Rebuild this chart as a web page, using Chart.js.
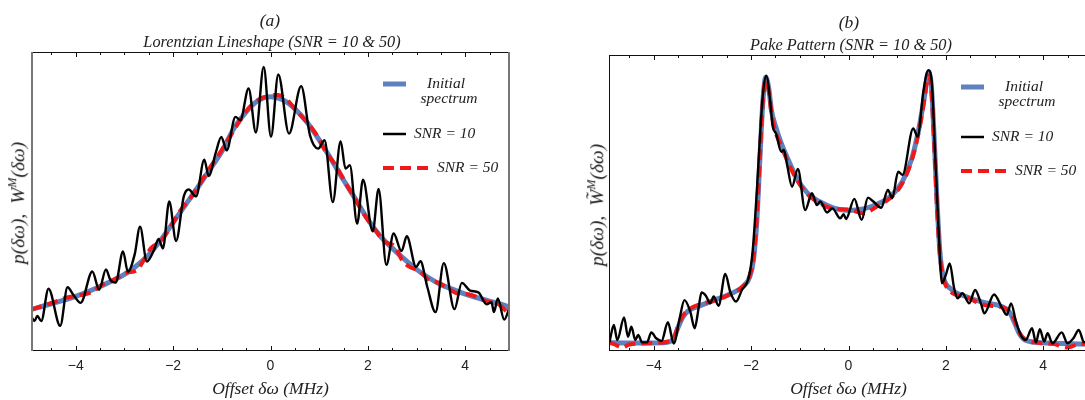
<!DOCTYPE html>
<html>
<head>
<meta charset="utf-8">
<script src="https://cdn.jsdelivr.net/npm/chart.js@4.4.0/dist/chart.umd.min.js"></script>
<style>
  body { margin: 0; width: 1085px; height: 400px; overflow: hidden; background: #fff; position: relative; }
  canvas { position: absolute; top: 0; }
  #chartA { left: 0; }
  #chartB { left: 578px; }
  .cap { position: absolute; transform: translate(-50%, -50%); white-space: nowrap;
         font-family: 'Liberation Serif', serif; font-style: italic; color: #222; }
  .ylab { position: absolute; white-space: nowrap; transform: translate(-50%, -50%) rotate(-90deg);
          font-family: 'Liberation Serif', serif; font-style: italic; font-size: 19.5px; color: #222; }
  .ylab sup { font-size: 12px; }
</style>
</head>
<body>
<canvas id="chartA" width="545" height="400"></canvas>
<canvas id="chartB" width="545" height="400"></canvas>

<div class="cap" style="left:270px; top:20px; font-size:17.5px;">(a)</div>
<div class="cap" style="left:272px; top:42px; font-size:16.3px;">Lorentzian Lineshape (SNR = 10 &amp; 50)</div>
<div class="ylab" style="left:17px; top:203px;">p(δω),&nbsp; W<sup>M</sup>(δω)</div>

<div class="cap" style="left:849px; top:22px; font-size:17.5px;">(b)</div>
<div class="cap" style="left:851px; top:45px; font-size:16.3px;">Pake Pattern (SNR = 10 &amp; 50)</div>
<div class="ylab" style="left:596px; top:205px;">p(δω),&nbsp; W̃<sup>M</sup>(δω)</div>

<script>
// x axis labels and series names
const xTicks = [-4, -2, 0, 2, 4];
const seriesNames = ['Initial spectrum', 'SNR = 10', 'SNR = 50'];

// (a) Lorentzian lineshape, initial spectrum
const aInitX = [-4.92, -4.5, -4.0, -3.5, -3.0, -2.75, -2.5, -2.25, -2.0, -1.75, -1.5, -1.25, -1.0, -0.75, -0.5, -0.25, 0,
  0.25, 0.5, 0.75, 1.0, 1.25, 1.5, 1.75, 2.0, 2.25, 2.5, 2.75, 3.0, 3.25, 3.5, 3.75, 4.0, 4.25, 4.5, 4.75, 4.92];
const aInitY = [0.139, 0.158, 0.183, 0.216, 0.256, 0.285, 0.322, 0.372, 0.430, 0.488, 0.546, 0.606, 0.667, 0.745, 0.800, 0.838, 0.850,
  0.840, 0.810, 0.765, 0.706, 0.640, 0.572, 0.507, 0.440, 0.385, 0.344, 0.307, 0.273, 0.245, 0.222, 0.206, 0.190, 0.178, 0.167, 0.156, 0.146];

// (a) reconstruction, SNR = 50
const aSnr50X = [-4.92, -4.7, -4.45, -4.2, -3.95, -3.7, -3.45, -3.2, -2.95, -2.75, -2.6, -2.45, -2.25, -2.05, -1.85, -1.65,
  -1.45, -1.25, -1.05, -0.85, -0.65, -0.45, -0.25, -0.05, 0.15, 0.35, 0.55, 0.75, 0.95, 1.15, 1.35, 1.55, 1.75, 1.95,
  2.15, 2.35, 2.55, 2.7, 2.85, 3.05, 3.25, 3.45, 3.65, 3.85, 4.05, 4.25, 4.45, 4.65, 4.8, 4.92];
const aSnr50Y = [0.138, 0.150, 0.163, 0.178, 0.186, 0.195, 0.222, 0.240, 0.262, 0.270, 0.305, 0.345, 0.368, 0.415, 0.470, 0.510,
  0.560, 0.612, 0.660, 0.712, 0.765, 0.812, 0.840, 0.852, 0.856, 0.838, 0.800, 0.765, 0.722, 0.662, 0.618, 0.560, 0.505, 0.450,
  0.405, 0.365, 0.350, 0.305, 0.282, 0.268, 0.238, 0.228, 0.210, 0.192, 0.190, 0.180, 0.165, 0.160, 0.140, 0.115];

// (a) reconstruction, SNR = 10
const aSnr10X = [-4.91, -4.85, -4.79, -4.71, -4.56, -4.32, -4.17, -4.05, -3.90, -3.66, -3.52, -3.38, -3.29, -3.18, -3.03, -2.93,
  -2.79, -2.68, -2.54, -2.38, -2.30, -2.21, -2.08, -1.94, -1.78, -1.68, -1.53, -1.36, -1.27, -1.12, -1.01, -0.90, -0.72, -0.62,
  -0.45, -0.30, -0.14, 0.01, 0.16, 0.38, 0.63, 0.81, 0.98, 1.11, 1.28, 1.44, 1.54, 1.63, 1.78, 1.90, 2.10, 2.22, 2.38, 2.53,
  2.69, 2.80, 2.99, 3.08, 3.22, 3.39, 3.56, 3.78, 3.93, 4.10, 4.27, 4.44, 4.54, 4.59, 4.67, 4.80, 4.92];
const aSnr10Y = [0.115, 0.100, 0.117, 0.100, 0.208, 0.084, 0.213, 0.188, 0.161, 0.266, 0.205, 0.273, 0.238, 0.229, 0.333, 0.265,
  0.323, 0.416, 0.299, 0.343, 0.375, 0.343, 0.500, 0.368, 0.518, 0.540, 0.517, 0.640, 0.585, 0.666, 0.716, 0.671, 0.783, 0.772,
  0.878, 0.731, 0.950, 0.716, 0.925, 0.727, 0.886, 0.722, 0.677, 0.705, 0.498, 0.702, 0.610, 0.621, 0.426, 0.573, 0.400, 0.542,
  0.288, 0.393, 0.334, 0.384, 0.281, 0.300, 0.215, 0.130, 0.294, 0.140, 0.228, 0.202, 0.196, 0.156, 0.163, 0.130, 0.176, 0.105, 0.150];

// (b) Pake pattern, initial spectrum
const bInitX = [-4.92, -4.5, -4.0, -3.7, -3.6, -3.5, -3.42, -3.3, -3.1, -2.75, -2.4, -2.15, -2.03, -1.95, -1.88, -1.82, -1.76,
  -1.70, -1.64, -1.58, -1.50, -1.40, -1.25, -1.05, -0.85, -0.60, -0.30, 0.0, 0.30, 0.60, 0.88, 1.10, 1.30, 1.45, 1.56, 1.64,
  1.70, 1.76, 1.82, 1.88, 1.95, 2.10, 2.40, 2.80, 3.15, 3.30, 3.40, 3.50, 3.62, 3.90, 4.4, 4.92];
const bInitY = [0.028, 0.027, 0.027, 0.030, 0.040, 0.080, 0.110, 0.135, 0.150, 0.172, 0.195, 0.220, 0.250, 0.310, 0.450, 0.650, 0.840,
  0.925, 0.890, 0.810, 0.760, 0.710, 0.650, 0.580, 0.535, 0.505, 0.483, 0.475, 0.480, 0.497, 0.525, 0.570, 0.650, 0.755, 0.860, 0.940,
  0.900, 0.720, 0.500, 0.330, 0.250, 0.210, 0.185, 0.163, 0.150, 0.133, 0.100, 0.062, 0.038, 0.029, 0.025, 0.023];

// (b) reconstruction, SNR = 50
const bSnr50X = [-4.92, -4.80, -4.65, -4.50, -4.0, -3.7, -3.58, -3.5, -3.4, -3.25, -3.05, -2.75, -2.45, -2.15, -2.03, -1.95, -1.88,
  -1.82, -1.76, -1.70, -1.64, -1.58, -1.50, -1.40, -1.25, -1.05, -0.85, -0.60, -0.30, 0.0, 0.30, 0.60, 0.88, 1.10, 1.30, 1.45,
  1.56, 1.64, 1.70, 1.76, 1.82, 1.88, 1.95, 2.10, 2.40, 2.80, 3.15, 3.30, 3.40, 3.50, 3.62, 3.90, 4.2, 4.5, 4.7, 4.92];
const bSnr50Y = [0.030, 0.022, 0.012, 0.022, 0.027, 0.032, 0.045, 0.085, 0.120, 0.143, 0.158, 0.170, 0.190, 0.222, 0.255, 0.320, 0.460,
  0.660, 0.845, 0.915, 0.880, 0.800, 0.740, 0.700, 0.640, 0.575, 0.530, 0.500, 0.480, 0.478, 0.465, 0.490, 0.520, 0.565, 0.645, 0.745,
  0.850, 0.930, 0.890, 0.700, 0.480, 0.320, 0.245, 0.200, 0.183, 0.155, 0.148, 0.135, 0.110, 0.065, 0.040, 0.028, 0.024, 0.012, 0.022, 0.025];

// (b) reconstruction, SNR = 10
const bSnr10X = [-4.91, -4.82, -4.75, -4.61, -4.53, -4.46, -4.38, -4.32, -4.24, -4.14, -4.05, -3.95, -3.84, -3.71, -3.59, -3.47,
  -3.37, -3.25, -3.16, -3.08, -3.02, -2.93, -2.84, -2.77, -2.67, -2.53, -2.43, -2.31, -2.19, -2.05, -1.97, -1.88, -1.80, -1.75,
  -1.69, -1.60, -1.56, -1.49, -1.38, -1.33, -1.26, -1.16, -1.04, -0.89, -0.75, -0.65, -0.58, -0.44, -0.33, -0.17, -0.10, -0.05,
  0.12, 0.27, 0.40, 0.51, 0.67, 0.81, 0.90, 1.02, 1.11, 1.33, 1.42, 1.54, 1.64, 1.71, 1.78, 1.85, 1.92, 2.00, 2.08, 2.17, 2.24,
  2.34, 2.48, 2.60, 2.72, 2.79, 2.99, 3.16, 3.25, 3.34, 3.44, 3.54, 3.64, 3.77, 3.85, 3.93, 4.02, 4.09, 4.19, 4.38, 4.50, 4.62,
  4.73, 4.84, 4.92];
const bSnr10Y = [0.030, 0.088, 0.037, 0.113, 0.048, 0.082, 0.037, 0.054, 0.029, 0.029, 0.063, 0.043, 0.034, 0.097, 0.025, 0.110,
  0.172, 0.133, 0.077, 0.144, 0.198, 0.187, 0.161, 0.184, 0.153, 0.260, 0.200, 0.167, 0.206, 0.248, 0.336, 0.550, 0.775, 0.880,
  0.930, 0.831, 0.761, 0.735, 0.673, 0.679, 0.628, 0.555, 0.615, 0.476, 0.533, 0.493, 0.505, 0.468, 0.482, 0.448, 0.462, 0.446,
  0.514, 0.443, 0.518, 0.505, 0.484, 0.544, 0.516, 0.606, 0.595, 0.752, 0.724, 0.880, 0.949, 0.910, 0.662, 0.414, 0.229, 0.257,
  0.296, 0.212, 0.178, 0.195, 0.161, 0.206, 0.161, 0.127, 0.191, 0.144, 0.122, 0.161, 0.099, 0.054, 0.037, 0.077, 0.029, 0.074,
  0.032, 0.060, 0.026, 0.063, 0.026, 0.043, 0.071, 0.029, 0.040];

const BLUE = '#5e81bf';
const RED = '#f01818';
const SERIF = "'Liberation Serif', serif";

const toPoints = (xs, ys) => xs.map((x, i) => ({ x, y: ys[i] }));

// frame with inward ticks, Mathematica style
const framePlugin = {
  id: 'frame',
  afterDatasetsDraw(chart, args, opts) {
    const { ctx, chartArea: a, scales: { x } } = chart;
    ctx.save();
    ctx.strokeStyle = '#111';
    ctx.lineWidth = 1;
    ctx.beginPath();
    ctx.moveTo(a.left, a.top + 0.5); ctx.lineTo(a.right, a.top + 0.5);
    ctx.moveTo(a.left, a.bottom - 0.5); ctx.lineTo(a.right, a.bottom - 0.5);
    for (let v = -4.5; v <= 4.5; v += 0.5) {
      const px = Math.round(x.getPixelForValue(v)) + 0.5;
      const len = v % 2 === 0 ? 5 : 3;
      ctx.moveTo(px, a.bottom); ctx.lineTo(px, a.bottom - len);
      ctx.moveTo(px, a.top); ctx.lineTo(px, a.top + len);
    }
    ctx.stroke();
    ctx.strokeStyle = opts.sideColor;
    ctx.lineWidth = opts.sideWidth;
    ctx.beginPath();
    ctx.moveTo(a.left + opts.sideWidth / 2, a.top); ctx.lineTo(a.left + opts.sideWidth / 2, a.bottom);
    ctx.moveTo(a.right - opts.sideWidth / 2, a.top); ctx.lineTo(a.right - opts.sideWidth / 2, a.bottom);
    ctx.stroke();
    ctx.restore();
  }
};

// legend drawn inside the plot, upper right
const keyPlugin = {
  id: 'key',
  afterDraw(chart) {
    const { ctx, chartArea: a } = chart;
    const x0 = a.left + 352, y0 = a.top + 32;
    ctx.save();
    ctx.lineCap = 'butt';
    ctx.font = `italic 15.5px ${SERIF}`;
    ctx.fillStyle = '#222';
    ctx.textBaseline = 'middle';

    ctx.strokeStyle = BLUE; ctx.lineWidth = 5;
    ctx.beginPath(); ctx.moveTo(x0, y0); ctx.lineTo(x0 + 23, y0); ctx.stroke();
    ctx.textAlign = 'center';
    ctx.fillText('Initial', x0 + 63, y0);
    ctx.fillText('spectrum', x0 + 66, y0 + 15);

    ctx.strokeStyle = '#000'; ctx.lineWidth = 2.5;
    ctx.beginPath(); ctx.moveTo(x0, y0 + 50); ctx.lineTo(x0 + 23, y0 + 50); ctx.stroke();
    ctx.textAlign = 'left';
    ctx.fillText(seriesNames[1], x0 + 31, y0 + 50);

    ctx.strokeStyle = RED; ctx.lineWidth = 4;
    ctx.setLineDash([11, 6]);
    ctx.beginPath(); ctx.moveTo(x0, y0 + 84); ctx.lineTo(x0 + 48, y0 + 84); ctx.stroke();
    ctx.setLineDash([]);
    ctx.fillText(seriesNames[2], x0 + 54, y0 + 84);
    ctx.restore();
  }
};

function makeChart(id, init, snr10, snr50, top, side) {
  return new Chart(document.getElementById(id), {
    type: 'line',
    data: {
      datasets: [
        { label: seriesNames[1], data: snr10, borderColor: '#000', borderWidth: 2.4, order: 1 },
        { label: seriesNames[2], data: snr50, borderColor: RED, borderWidth: 4, borderDash: [11, 6], order: 2 },
        { label: seriesNames[0], data: init, borderColor: BLUE, borderWidth: 5, order: 3 }
      ]
    },
    options: {
      responsive: false,
      animation: false,
      events: [],
      layout: { padding: { left: 31, right: 35, top: top, bottom: 0 } },
      elements: {
        point: { radius: 0 },
        line: { cubicInterpolationMode: 'monotone', fill: false, borderCapStyle: 'butt' }
      },
      scales: {
        x: {
          type: 'linear',
          min: -4.92,
          max: 4.92,
          afterBuildTicks: s => { s.ticks = xTicks.map(v => ({ value: v })); },
          afterFit: s => { s.height = 49; },
          grid: { display: false, drawTicks: false },
          border: { display: false },
          ticks: {
            padding: 7,
            color: '#222',
            font: { family: "'Liberation Sans', sans-serif", size: 14 },
            callback: v => (v < 0 ? '\u2212' + Math.abs(v) : String(v))
          },
          title: {
            display: true,
            text: 'Offset δω (MHz)',
            color: '#222',
            font: { family: SERIF, style: 'italic', size: 17.5 },
            padding: { top: 0, bottom: 0 }
          }
        },
        y: { display: false, min: 0, max: 1 }
      },
      plugins: {
        legend: { display: false },
        tooltip: { enabled: false },
        frame: side
      }
    },
    plugins: [framePlugin, keyPlugin]
  });
}

makeChart('chartA', toPoints(aInitX, aInitY), toPoints(aSnr10X, aSnr10Y), toPoints(aSnr50X, aSnr50Y), 52,
  { sideColor: '#777', sideWidth: 2 });
makeChart('chartB', toPoints(bInitX, bInitY), toPoints(bSnr10X, bSnr10Y), toPoints(bSnr50X, bSnr50Y), 55,
  { sideColor: '#111', sideWidth: 1 });
</script>
</body>
</html>
